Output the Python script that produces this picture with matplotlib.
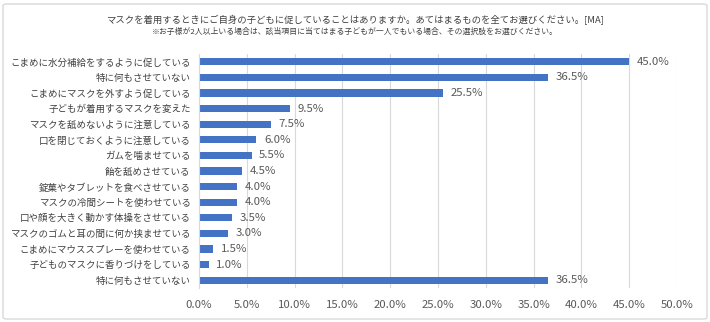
import matplotlib.pyplot as plt
from matplotlib.patches import FancyBboxPatch

plt.rcParams['font.family'] = ['Noto Sans CJK JP', 'DejaVu Sans']

labels = [
    'こまめに水分補給をするように促している',
    '特に何もさせていない',
    'こまめにマスクを外すよう促している',
    '子どもが着用するマスクを変えた',
    'マスクを舐めないように注意している',
    '口を閉じておくように注意している',
    'ガムを噛ませている',
    '飴を舐めさせている',
    '錠菓やタブレットを食べさせている',
    'マスクの冷間シートを使わせている',
    '口や顔を大きく動かす体操をさせている',
    'マスクのゴムと耳の間に何か挟ませている',
    'こまめにマウススプレーを使わせている',
    '子どものマスクに香りづけをしている',
    '特に何もさせていない',
]
values = [45.0, 36.5, 25.5, 9.5, 7.5, 6.0, 5.5, 4.5, 4.0, 4.0, 3.5, 3.0, 1.5, 1.0, 36.5]
xticks = [0, 5, 10, 15, 20, 25, 30, 35, 40, 45, 50]

title = 'マスクを着用するときにご自身の子どもに促していることはありますか。あてはまるものを全てお選びください。[MA]'
subtitle = '※お子様が2人以上いる場合は、該当項目に当てはまる子どもが一人でもいる場合、その選択肢をお選びください。'

gray = '#595959'

def main() -> None:
    fig = plt.figure(figsize=(7.1, 3.22), dpi=100)
    ax = fig.add_axes([199 / 710, 1 - 288 / 322, 478 / 710, 234 / 322])

    ypos = list(range(len(labels)))
    ax.barh(ypos, values, height=0.45, color='#4472C4', zorder=3)
    for y, v in zip(ypos, values):
        ax.text(v + 0.8, y, f'{v:.1f}%', va='center', ha='left',
                fontsize=8.2, color=gray)

    ax.set_ylim(len(labels) - 0.5, -0.5)
    ax.set_xlim(0, 50)
    ax.set_yticks(ypos)
    ax.set_yticklabels(labels, fontsize=6.8, color='#404040')
    ax.set_xticks(xticks)
    ax.set_xticklabels([f'{t:.1f}%' for t in xticks], fontsize=8.2, color=gray)
    ax.tick_params(length=0, pad=6)
    ax.tick_params(axis='x', pad=9)
    ax.grid(axis='x', color='#D9D9D9', linewidth=0.8, zorder=0)
    for s in ['top', 'right', 'bottom']:
        ax.spines[s].set_visible(False)
    ax.spines['left'].set_color('#D9D9D9')
    ax.spines['left'].set_zorder(4)

    fig.text(0.5, 1 - 20 / 322, title, ha='center', va='center',
             fontsize=6.75, color='#404040')
    fig.text(0.5, 1 - 32 / 322, subtitle, ha='center', va='center',
             fontsize=5.65, color='#404040')

    frame = FancyBboxPatch((3 / 710, 3 / 322), 704 / 710, 315 / 322,
                           boxstyle='round,pad=0,rounding_size=0.005',
                           transform=fig.transFigure, fill=False,
                           edgecolor='#D9D9D9', linewidth=1)
    fig.patches.append(frame)

    fig.savefig('out.png', dpi=100)


main()
